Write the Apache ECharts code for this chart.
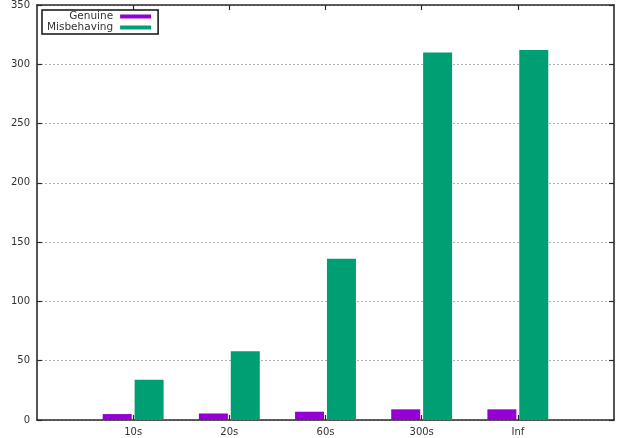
<!DOCTYPE html>
<html><head><meta charset="utf-8">
<script src="https://cdn.jsdelivr.net/npm/echarts@6/dist/echarts.min.js"></script>
<style>html,body{margin:0;padding:0;background:#fff}#c{width:618px;height:438px}</style>
</head><body><div id="c"></div>
<script>
const categories = ['10s', '20s', '60s', '300s', 'Inf'];
const genuine = [5, 5.5, 7, 9, 9];
const misbehaving = [34, 58, 136, 310, 312];
const yTicks = [0, 50, 100, 150, 200, 250, 300, 350];

const padded = [''].concat(categories, ['']);
const pad = arr => ['-'].concat(arr, ['-']);
const font = 'DejaVu Sans';
const axisColor = '#2a2a2a';
const lastIdx = padded.length - 1;
const innerTick = (i) => i > 0 && i < lastIdx;

const chart = echarts.init(document.getElementById('c'), null, {renderer: 'canvas'});
const xBase = {
  type: 'category', data: padded, boundaryGap: false,
  axisLine: {show: true, onZero: false, lineStyle: {color: axisColor, width: 1.6}},
  axisTick: {show: true, inside: true, length: 5, interval: innerTick, lineStyle: {color: axisColor, width: 1.2}},
  splitLine: {show: false}
};
const yBase = {
  type: 'value', min: yTicks[0], max: yTicks[yTicks.length - 1], interval: yTicks[1] - yTicks[0],
  axisLine: {show: true, onZero: false, lineStyle: {color: axisColor, width: 1.6}},
  axisTick: {show: true, inside: true, length: 5, lineStyle: {color: axisColor, width: 1.2}}
};
chart.setOption({
  animation: false,
  textStyle: {fontFamily: font},
  grid: {left: 37, right: 4, top: 5, bottom: 18, containLabel: false},
  legend: {
    orient: 'vertical', left: 42, top: 10, align: 'right', icon: 'rect',
    itemWidth: 31, itemHeight: 4, itemGap: 0, padding: [1, 7, 1, 5],
    borderColor: '#111', borderWidth: 1.5,
    textStyle: {fontSize: 10.5, lineHeight: 10, color: '#333', fontFamily: font, padding: [0, 2, 0, 0]},
    data: ['Genuine', 'Misbehaving']
  },
  xAxis: [
    Object.assign({}, xBase, {position: 'bottom',
      axisLabel: {show: true, interval: 0, margin: 7, fontSize: 10, color: '#333', fontFamily: font}}),
    Object.assign({}, xBase, {position: 'top', axisLabel: {show: false}})
  ],
  yAxis: [
    Object.assign({}, yBase, {position: 'left',
      axisLabel: {show: true, margin: 7, fontSize: 10, color: '#333', fontFamily: font},
      splitLine: {show: true, lineStyle: {type: [2, 2], color: '#b0b0b0', width: 1}}}),
    Object.assign({}, yBase, {position: 'right', axisLabel: {show: false}, splitLine: {show: false}})
  ],
  series: [
    {name: 'Genuine', type: 'bar', xAxisIndex: 0, yAxisIndex: 0, data: pad(genuine),
     barWidth: 29, barGap: '10%', itemStyle: {color: '#9400d3'}},
    {name: 'Misbehaving', type: 'bar', xAxisIndex: 0, yAxisIndex: 0, data: pad(misbehaving),
     barWidth: 29, barGap: '10%', itemStyle: {color: '#009e73'}}
  ]
});
</script></body></html>
